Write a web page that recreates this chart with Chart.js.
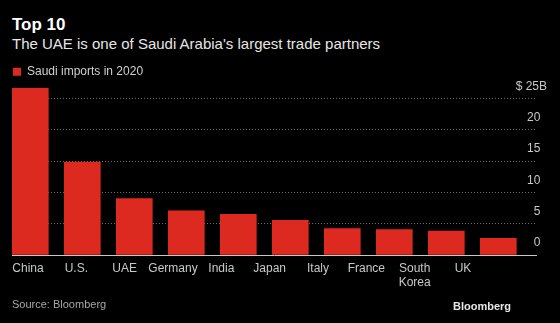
<!DOCTYPE html>
<html>
<head>
<meta charset="utf-8">
<script src="https://cdn.jsdelivr.net/npm/chart.js@4/dist/chart.umd.min.js"></script>
<style>
  html, body { margin: 0; padding: 0; background: #000; }
  #wrap { position: relative; width: 560px; height: 323px; overflow: hidden; font-family: "Liberation Sans", Arial, sans-serif; }
  #myChart { position: absolute; left: 0; top: 0; }
  .title { position: absolute; left: 12px; top: 15px; color: #fff; font-weight: bold; font-size: 17px; }
  .subtitle { position: absolute; left: 12px; top: 35px; color: #e6e6e6; font-size: 15px; }
  .source { position: absolute; left: 12px; top: 298px; color: #a6a6a6; font-size: 11px; }
  .logo { position: absolute; right: 49px; top: 300px; color: #e6e6e6; font-size: 11px; font-weight: bold; }
</style>
</head>
<body>
<div id="wrap">
  <div class="title">Top 10</div>
  <div class="subtitle">The UAE is one of Saudi Arabia's largest trade partners</div>
  <canvas id="myChart" width="560" height="323"></canvas>
  <div class="source">Source: Bloomberg</div>
  <div class="logo">Bloomberg</div>
</div>
<script>
const categories = ['China', 'U.S.', 'UAE', 'Germany', 'India', 'Japan', 'Italy', 'France', ['South', 'Korea'], 'UK'];
const imports = [26.7, 14.85, 9.0, 7.05, 6.5, 5.55, 4.2, 4.05, 3.8, 2.65];
const yTicks = [0, 5, 10, 15, 20, 25];

const data = {
    datasets: [{
        label: 'Saudi imports in 2020',
        data: imports.map((v, i) => ({ x: i, y: v })),
        backgroundColor: '#dd2a20',
        borderWidth: 0,
        barThickness: 36,
        xAxisID: 'x',
        yAxisID: 'y'
    }]
};

// zero line solid and light, the others dotted
function isZero(ctx) {
    return ctx.tick && ctx.tick.value === 0;
}

const config = {
    type: 'bar',
    data,
    options: {
        responsive: false,
        animation: false,
        layout: {
            padding: { left: 12, right: 23, top: 64.8, bottom: 28 }
        },
        plugins: {
            tooltip: { enabled: false },
            legend: {
                align: 'start',
                labels: {
                    boxWidth: 8,
                    boxHeight: 8,
                    padding: 1,
                    color: '#d0d0d0',
                    font: { family: '"Liberation Sans", Arial, sans-serif', size: 12 }
                }
            }
        },
        scales: {
            x: {
                type: 'linear',
                display: false,
                bounds: 'data',
                offset: false,
                min: -0.352,
                max: 9.744
            },
            // label axis: the tick labels sit a little left of the bars in the original
            x2: {
                type: 'linear',
                position: 'bottom',
                bounds: 'data',
                offset: false,
                min: -0.331,
                max: 10.531,
                grid: { display: false, drawTicks: false },
                border: { display: false },
                afterFit: function(scale) { scale.height = 40; },
                afterBuildTicks: function(scale) {
                    scale.ticks = categories.map((c, i) => ({ value: i }));
                },
                ticks: {
                    autoSkip: false,
                    maxRotation: 0,
                    padding: 6,
                    color: '#c8c8c8',
                    font: { family: '"Liberation Sans", Arial, sans-serif', size: 12, lineHeight: 1.2 },
                    callback: function(value) {
                        return categories[value];
                    }
                }
            },
            y: {
                position: 'right',
                min: 0,
                max: 26.7,
                grid: {
                    color: ctx => isZero(ctx) ? '#c8c8c8' : '#6e6e6e',
                    lineWidth: 1,
                    drawTicks: false
                },
                border: {
                    display: false,
                    dash: ctx => isZero(ctx) ? [] : [1, 2]
                },
                afterFit: function(scale) { scale.width = 0; },
                afterBuildTicks: function(scale) {
                    scale.ticks = yTicks.map(v => ({ value: v }));
                },
                ticks: {
                    mirror: true,
                    padding: 10,
                    labelOffset: -12,
                    color: '#c8c8c8',
                    font: { family: '"Liberation Sans", Arial, sans-serif', size: 12 },
                    callback: function(value) {
                        return value === 25 ? '$ 25B' : value + '  ';
                    }
                }
            }
        }
    }
};

var myChart = new Chart(
    document.getElementById('myChart'),
    config
);
</script>
</body>
</html>
